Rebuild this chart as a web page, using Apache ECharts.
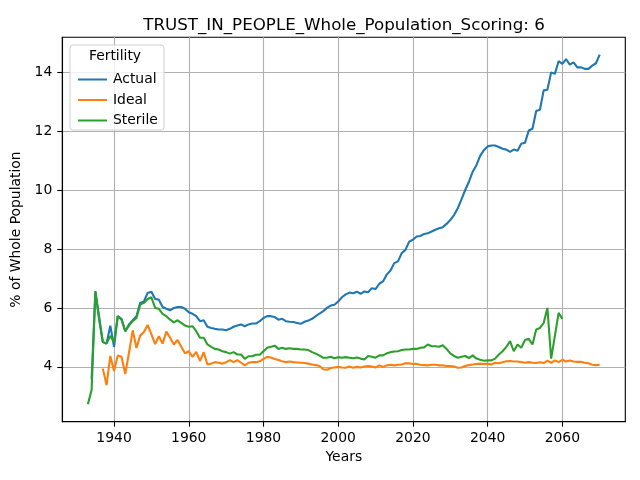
<!DOCTYPE html>
<html>
<head>
<meta charset="utf-8">
<script src="https://cdn.jsdelivr.net/npm/echarts@6/dist/echarts.min.js"></script>
<style>
html, body { margin: 0; padding: 0; background: #fff; }
#mychart { width: 640px; height: 480px; }
</style>
</head>
<body>
<div id="mychart"></div>
<script>
// values, one per year
let actualStart = 1934
let actual = [3.58, 6.56, 5.70, 4.84, 4.79, 5.40, 4.68, 5.72, 5.63, 5.21,
    5.44, 5.58, 5.72, 6.17, 6.22, 6.51, 6.55, 6.30, 6.28, 6.03,
    5.97, 5.92, 6.00, 6.03, 6.03, 5.97, 5.85, 5.80, 5.72, 5.55,
    5.58, 5.36, 5.32, 5.29, 5.27, 5.27, 5.24, 5.29, 5.36, 5.40,
    5.44, 5.38, 5.44, 5.47, 5.47, 5.55, 5.66, 5.72, 5.72, 5.69,
    5.60, 5.63, 5.55, 5.53, 5.52, 5.49, 5.46, 5.53, 5.57, 5.63,
    5.72, 5.81, 5.89, 6.00, 6.08, 6.11, 6.22, 6.36, 6.46, 6.52,
    6.50, 6.55, 6.48, 6.56, 6.53, 6.67, 6.64, 6.82, 6.90, 7.13,
    7.27, 7.52, 7.58, 7.86, 7.97, 8.25, 8.31, 8.42, 8.44, 8.51,
    8.53, 8.59, 8.65, 8.70, 8.74, 8.85, 8.98, 9.15, 9.38, 9.68,
    10.00, 10.28, 10.62, 10.84, 11.16, 11.35, 11.48, 11.51, 11.51, 11.46,
    11.40, 11.37, 11.29, 11.37, 11.33, 11.57, 11.60, 12.02, 12.08, 12.68,
    12.72, 13.38, 13.40, 13.99, 13.94, 14.37, 14.28, 14.44, 14.25, 14.33,
    14.16, 14.16, 14.11, 14.11, 14.22, 14.30, 14.59]

let idealStart = 1937
let ideal = [3.94, 3.38, 4.37, 3.86, 4.39, 4.34, 3.76, 4.48, 5.24, 4.64,
    5.06, 5.18, 5.42, 5.10, 4.77, 5.04, 4.79, 5.20, 4.99, 4.76,
    4.91, 4.68, 4.46, 4.53, 4.34, 4.51, 4.20, 4.50, 4.08, 4.11,
    4.16, 4.14, 4.11, 4.16, 4.23, 4.16, 4.23, 4.14, 4.05, 4.14,
    4.16, 4.16, 4.19, 4.27, 4.34, 4.32, 4.27, 4.23, 4.19, 4.16,
    4.18, 4.16, 4.15, 4.14, 4.13, 4.11, 4.08, 4.06, 4.03, 3.92,
    3.90, 3.96, 3.98, 4.00, 3.98, 3.97, 4.01, 3.97, 4.00, 3.98,
    4.01, 4.03, 4.01, 3.98, 4.05, 4.00, 4.05, 4.07, 4.05, 4.07,
    4.08, 4.12, 4.12, 4.10, 4.10, 4.07, 4.06, 4.05, 4.07, 4.07,
    4.05, 4.05, 4.03, 4.03, 4.01, 3.97, 3.98, 4.03, 4.06, 4.08,
    4.10, 4.11, 4.10, 4.11, 4.08, 4.14, 4.12, 4.16, 4.19, 4.20,
    4.18, 4.18, 4.16, 4.14, 4.16, 4.14, 4.13, 4.16, 4.13, 4.21,
    4.14, 4.22, 4.16, 4.24, 4.18, 4.22, 4.18, 4.17, 4.17, 4.14,
    4.12, 4.07, 4.06, 4.07]

let sterileStart = 1933
let sterile = [2.73, 3.22, 6.56, 5.60, 4.84, 4.79, 5.05, 4.85, 5.72, 5.60,
    5.21, 5.40, 5.55, 5.66, 6.11, 6.17, 6.30, 6.36, 6.00, 5.97,
    5.80, 5.72, 5.60, 5.51, 5.58, 5.49, 5.40, 5.36, 5.38, 5.21,
    4.99, 4.99, 4.76, 4.68, 4.61, 4.59, 4.53, 4.50, 4.45, 4.50,
    4.42, 4.42, 4.27, 4.36, 4.36, 4.41, 4.41, 4.53, 4.65, 4.68,
    4.72, 4.61, 4.65, 4.61, 4.63, 4.61, 4.61, 4.59, 4.59, 4.57,
    4.50, 4.45, 4.38, 4.31, 4.31, 4.34, 4.29, 4.33, 4.31, 4.33,
    4.31, 4.29, 4.32, 4.28, 4.25, 4.37, 4.34, 4.31, 4.39, 4.39,
    4.46, 4.50, 4.52, 4.53, 4.57, 4.59, 4.59, 4.61, 4.61, 4.65,
    4.66, 4.76, 4.70, 4.70, 4.68, 4.73, 4.61, 4.46, 4.37, 4.31,
    4.34, 4.37, 4.30, 4.39, 4.28, 4.24, 4.21, 4.22, 4.22, 4.28,
    4.42, 4.53, 4.68, 4.87, 4.53, 4.76, 4.65, 4.91, 4.95, 4.76,
    5.27, 5.32, 5.49, 6.00, 4.28, 5.05, 5.83, 5.63]

let xTicks = [1940, 1960, 1980, 2000, 2020, 2040, 2060]
let yTicks = [4, 6, 8, 10, 12, 14]

function pairs(start, vals) {
    let out = []
    for (let i = 0; i < vals.length; i++) {
        out.push([start + i, vals[i]])
    }
    return out
}

let font = 'DejaVu Sans'
let myChart = echarts.init(document.getElementById('mychart'))

myChart.setOption({
    animation: false,
    backgroundColor: '#fff',
    textStyle: { fontFamily: font },
    title: {
        text: 'TRUST_IN_PEOPLE_Whole_Population_Scoring: 6',
        left: 339, top: 12, textAlign: 'center',
        textStyle: { fontFamily: font, fontSize: 16.7, fontWeight: 'normal', color: '#000' }
    },
    grid: {
        left: 62.3, right: 14.7, top: 37.3, bottom: 58.3,
        show: true, borderColor: '#000', borderWidth: 1.1
    },
    xAxis: {
        type: 'value', min: 1926.15, max: 2076.85,
        name: 'Years', nameLocation: 'middle', nameGap: 28,
        nameTextStyle: { fontFamily: font, fontSize: 13.9, color: '#000' },
        axisLine: { lineStyle: { color: '#000', width: 1.1 } },
        axisTick: { show: true, length: 5, lineStyle: { color: '#000', width: 1.1 }, customValues: xTicks },
        axisLabel: { customValues: xTicks, margin: 10, fontFamily: font, fontSize: 13.9, color: '#000',
            formatter: v => String(v) },
        splitLine: { show: true, lineStyle: { color: '#b0b0b0', width: 1.1 } }
    },
    yAxis: {
        type: 'value', min: 2.14, max: 15.18,
        name: '% of Whole Population', nameLocation: 'middle', nameGap: 33, nameRotate: 90,
        nameTextStyle: { fontFamily: font, fontSize: 13.9, color: '#000' },
        axisLine: { show: true, lineStyle: { color: '#000', width: 1.1 } },
        axisTick: { show: true, length: 5, lineStyle: { color: '#000', width: 1.1 }, customValues: yTicks },
        axisLabel: { customValues: yTicks, margin: 10, fontFamily: font, fontSize: 13.9, color: '#000' },
        splitLine: { show: true, lineStyle: { color: '#b0b0b0', width: 1.1 } }
    },
    legend: {
        orient: 'vertical', left: 73, top: 67.5, z: 6,
        icon: 'rect', itemWidth: 29, itemHeight: 2, itemGap: 6.5,
        textStyle: { fontFamily: font, fontSize: 13.9, color: '#000', lineHeight: 14, padding: [0, 0, 0, 1] },
        data: ['Actual', 'Ideal', 'Sterile']
    },
    graphic: [
        {
            type: 'rect', z: 3,
            shape: { x: 70, y: 45, width: 94, height: 85, r: 3 },
            style: { fill: 'rgba(255,255,255,0.8)', stroke: '#d0d0d0', lineWidth: 1 }
        },
        {
            type: 'text', z: 5, x: 115, y: 56.5,
            style: { text: 'Fertility', fontFamily: font, fontSize: 13.9, fill: '#000',
                textAlign: 'center', textVerticalAlign: 'middle' }
        }
    ],
    series: [
        { name: 'Actual', type: 'line', symbol: 'none', color: '#1f77b4',
          lineStyle: { width: 2.1 }, data: pairs(actualStart, actual) },
        { name: 'Ideal', type: 'line', symbol: 'none', color: '#ff7f0e',
          lineStyle: { width: 2.1 }, data: pairs(idealStart, ideal) },
        { name: 'Sterile', type: 'line', symbol: 'none', color: '#2ca02c',
          lineStyle: { width: 2.1 }, data: pairs(sterileStart, sterile) }
    ]
})
</script>
</body>
</html>
